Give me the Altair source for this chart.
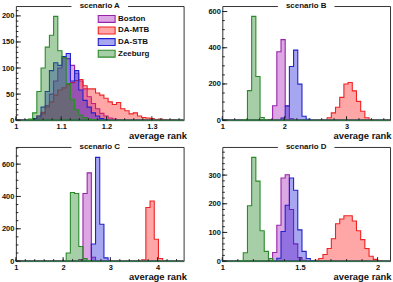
import altair as alt
import numpy as np
import pandas as pd

SERIES = ["Boston", "DA-MTB", "DA-STB", "Zeeburg"]
FILL_COLORS = ["#aa22bb", "#ff2222", "#2222dd", "#228822"]
EDGE_COLORS = ["#9922aa", "#ee2222", "#2222cc", "#2a8a2a"]
N_BINS = 40
FONT = "Liberation Sans"

# Each series: [index of first filled bin, counts from that bin on]

# scenario A
A_TITLE = "scenario A"
A_RANGE = [1.0, 1.37]
A_XTICKS = [1.0, 1.1, 1.2, 1.3]
A_YTICKS = [0, 50, 100, 150, 200]
A_BOSTON = [4, [1, 4, 12, 28, 50, 75, 100, 120, 118, 105, 90, 75, 60, 45, 32, 22, 13, 8, 4, 2, 1]]
A_DAMTB = [3, [1, 3, 8, 15, 25, 35, 48, 58, 62, 68, 72, 76, 78, 66, 60, 60, 52, 48, 42, 35, 30,
               34, 22, 18, 12, 14, 8, 5, 4, 3, 1, 2, 1, 0, 1]]
A_DASTB = [4, [3, 8, 25, 55, 95, 110, 105, 122, 128, 75, 95, 58, 38, 25, 14, 8, 3, 1]]
A_ZEEBURG = [3, [2, 14, 55, 100, 140, 163, 199, 133, 120, 70, 40, 20, 10, 5, 2, 1]]

# scenario B
B_TITLE = "scenario B"
B_RANGE = [1.0, 3.7]
B_XTICKS = [1, 2, 3]
B_YTICKS = [0, 200, 400, 600]
B_BOSTON = [11, [3, 80, 378, 445, 80, 8, 1]]
B_DAMTB = [25, [13, 40, 71, 126, 200, 208, 162, 104, 49, 13, 4]]
B_DASTB = [13, [1, 12, 78, 296, 387, 199, 22, 5]]
B_ZEEBURG = [5, [3, 163, 573, 241, 15, 2]]

# scenario C
C_TITLE = "scenario C"
C_RANGE = [1.0, 4.55]
C_XTICKS = [1, 2, 3, 4]
C_YTICKS = [0, 200, 400, 600]
C_BOSTON = [15, [10, 418, 546, 24]]
C_DAMTB = [30, [8, 332, 372, 135, 16, 3]]
C_DASTB = [17, [3, 106, 642, 228, 20]]
C_ZEEBURG = [12, [50, 424, 418, 90, 15, 3]]

# scenario D
D_TITLE = "scenario D"
D_RANGE = [1.0, 2.08]
D_XTICKS = [1, 1.5, 2]
D_YTICKS = [0, 100, 200, 300]
D_BOSTON = [12, [30, 125, 290, 301, 180, 60, 12, 3]]
D_DAMTB = [22, [3, 9, 23, 44, 78, 130, 147, 158, 158, 140, 106, 75, 44, 17, 6, 2]]
D_DASTB = [13, [10, 103, 195, 290, 247, 109, 34, 9, 2]]
D_ZEEBURG = [4, [2, 29, 193, 362, 279, 106, 34, 9]]

W, H = 169, 115

fill_scale = alt.Scale(domain=SERIES, range=FILL_COLORS)
edge_scale = alt.Scale(domain=SERIES, range=EDGE_COLORS)


def hist_frame(rng, series):
    lo, hi = rng
    step = (hi - lo) / N_BINS
    edges = lo + step * np.arange(N_BINS + 1)
    rows = []
    for name, (start, counts) in zip(SERIES, series):
        full = np.zeros(N_BINS)
        full[start:start + len(counts)] = counts
        vals = np.append(full, full[-1])
        rows += [(name, e, v) for e, v in zip(edges, vals)]
    return pd.DataFrame(rows, columns=["name", "x", "n"])


def panel(title, rng, xticks, xminor, yticks, yminor, series, legend=False,
          title_x=W + 3):
    df = hist_frame(rng, series)
    ymax = float(df["n"].max()) * 1.1
    xs = alt.Scale(domain=rng, nice=False, zero=False)
    ys = alt.Scale(domain=[0, ymax], nice=False)
    x_axis = alt.Axis(
        values=xticks, format="~g", domain=False, ticks=False, tickSize=0,
        grid=False, labelFont=FONT, labelFontSize=7.5, labelFontWeight="bold",
        labelColor="#111", labelPadding=2.5, labelFlush=False,
        labelOverlap=False, title="average rank", titleFont=FONT,
        titleFontSize=9.5, titleFontWeight="bold", titleColor="#111",
        titleAnchor="end", titleAlign="right", titleBaseline="alphabetic",
        titleX=title_x, titleY=18.5)
    y_axis = alt.Axis(
        values=yticks, domain=False, ticks=False, tickSize=0, grid=False,
        labelFont=FONT, labelFontSize=7.5, labelFontWeight="bold",
        labelColor="#111", labelPadding=2, labelOverlap=False, title=None)

    hist = alt.Chart(df).mark_area(
        interpolate="step-after", fillOpacity=0.4, strokeWidth=1.1
    ).encode(
        x=alt.X("x:Q", scale=xs, axis=x_axis),
        y=alt.Y("n:Q", scale=ys, axis=y_axis, stack=None),
        fill=alt.Fill("name:N", scale=fill_scale, legend=None),
        stroke=alt.Stroke("name:N", scale=edge_scale, legend=None),
        order=alt.Order("name:N"),
    )

    lo, hi = rng
    xmin_vals = np.arange(lo, hi + 1e-9, xminor)
    ymin_vals = np.arange(0, ymax, yminor)

    def rules(vals, horizontal, length):
        c = alt.Chart(pd.DataFrame({"v": vals})).mark_rule(color="#222", strokeWidth=1)
        if horizontal:
            return c.encode(y=alt.Y("v:Q", scale=ys, axis=y_axis),
                            x=alt.value(0), x2=alt.value(length))
        return c.encode(x=alt.X("v:Q", scale=xs, axis=x_axis),
                        y=alt.value(H), y2=alt.value(H - length))

    tick_layers = [
        rules(yticks, True, 5), rules(ymin_vals, True, 2.5),
        rules(xticks, False, 4), rules(xmin_vals, False, 2),
    ]

    tdf = pd.DataFrame({"t": [title]})
    title_box = alt.Chart(tdf).mark_rect(color="white").encode(
        x=alt.value(W / 2 - 28.5), x2=alt.value(W / 2 + 28.5),
        y=alt.value(-4), y2=alt.value(4))
    title_txt = alt.Chart(tdf).mark_text(
        font=FONT, fontSize=8, fontWeight="bold", baseline="middle",
        color="#111").encode(x=alt.value(W / 2), y=alt.value(0), text="t:N")

    base = alt.layer(hist, *tick_layers, title_box, title_txt)
    if not legend:
        return base.properties(width=W, height=H)

    ldf = pd.DataFrame({"name": SERIES})
    ly = alt.Y("name:N", scale=alt.Scale(type="point", domain=SERIES,
                                          range=[13, 48], padding=0), axis=None)
    swatch = alt.Chart(ldf).mark_rect(
        width=17, height=7, fillOpacity=0.4, strokeWidth=1.1).encode(
        x=alt.value(91.5), y=ly,
        fill=alt.Fill("name:N", scale=fill_scale, legend=None),
        stroke=alt.Stroke("name:N", scale=edge_scale, legend=None))
    label = alt.Chart(ldf).mark_text(
        font=FONT, fontSize=8, fontWeight="bold", align="left",
        baseline="middle", color="#111").encode(
        x=alt.value(103), y=ly, text="name:N")
    return alt.layer(base, swatch, label).resolve_scale(y="independent").properties(
        width=W, height=H)


pa = panel(A_TITLE, A_RANGE, A_XTICKS, 0.02, A_YTICKS, 10,
           [A_BOSTON, A_DAMTB, A_DASTB, A_ZEEBURG], legend=True)
pb = panel(B_TITLE, B_RANGE, B_XTICKS, 0.2, B_YTICKS, 50,
           [B_BOSTON, B_DAMTB, B_DASTB, B_ZEEBURG], title_x=W + 1)
pc = panel(C_TITLE, C_RANGE, C_XTICKS, 0.2, C_YTICKS, 50,
           [C_BOSTON, C_DAMTB, C_DASTB, C_ZEEBURG])
pd_ = panel(D_TITLE, D_RANGE, D_XTICKS, 0.1, D_YTICKS, 20,
            [D_BOSTON, D_DAMTB, D_DASTB, D_ZEEBURG], title_x=W + 1)

chart = alt.concat(pa, pb, pc, pd_, columns=2, spacing={"row": 27, "column": 39},
                   bounds="flush").properties(
    padding={"left": 0, "top": 0, "right": 0, "bottom": 0},
    background="white",
).configure_view(stroke="#333", strokeWidth=1)

chart.save("out.html", embed_options={"renderer": "svg", "actions": False})
